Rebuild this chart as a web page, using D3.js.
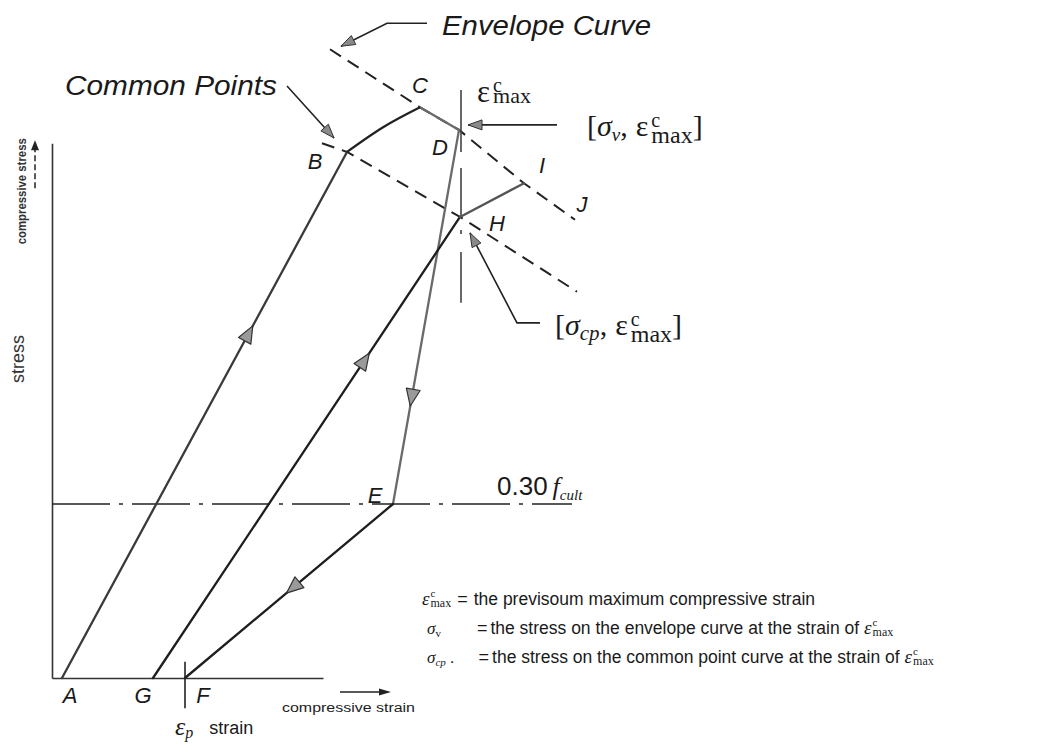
<!DOCTYPE html>
<html>
<head>
<meta charset="utf-8">
<script src="https://cdn.jsdelivr.net/npm/d3@7"></script>
<style>
  body { margin: 0; background: #fff; }
  svg { display: block; }
</style>
</head>
<body>
<svg id="chart" width="1063" height="744"></svg>
<script>
// ---- data: strain (relative units), stress (fraction of f_cult) ----
const pointNames  = ["A", "B", "C", "D", "E", "F", "G", "H", "I", "J"];
const pointStrain = [0.2, 5.9, 7.36, 8.14, 6.82, 2.66, 2.02, 8.16, 9.44, 10.46];
const pointStress = [0, 0.907, 0.984, 0.945, 0.30, 0, 0, 0.795, 0.853, 0.79];

const envelopeStrain = [5.56, 7.36, 8.14, 9.44, 10.46];
const envelopeStress = [1.084, 0.984, 0.945, 0.853, 0.79];

const commonStrain = [5.4, 5.9, 8.16, 10.5];
const commonStress = [0.922, 0.907, 0.795, 0.666];

// reloading curve B -> C
const curveBCStrain = [5.9, 6.63, 7.36];
const curveBCStress = [0.907, 0.950, 0.984];

const strainMax = 8.18;
const strainMaxRange = [1.014, 0.647];
const cutoffStress = 0.30;
const cutoffStrainEnd = 10.4;
const axisStrainEnd = 5.42;
const axisStressEnd = 0.922;
const plasticTick = [0.028, -0.052];

// straight path segments and their colours
const segments = [["A", "B"], ["C", "D"], ["D", "E"], ["E", "F"], ["G", "H"], ["H", "I"]];
const segmentColors = ["#3a3a3a", "#6a6a6a", "#6a6a6a", "#1e1e1e", "#1e1e1e", "#555"];
// direction arrows: from, to, fraction along
const arrowSegments = [["A", "B", 0.656], ["G", "H", 0.69], ["D", "E", 0.717], ["E", "F", 0.483]];

// point label offsets (px) from each point
const labelDx = [8, -32, 0, -19, -18, 18, -10, 37, 18, 7];
const labelDy = [25, 17, -14, 25, -1, 25, 25, 14, -10, -8];

const legendRows = [
  "the previsoum maximum compressive strain",
  "the stress on the envelope curve at the strain of",
  "the stress on the common point curve at the strain of"
];

// ---- scales ----
const x = d3.scaleLinear().domain([0, 10]).range([52, 552]);
const y = d3.scaleLinear().domain([0, 1]).range([678, 98]);

const svg = d3.select("#chart");
svg.append("rect").attr("width", 1063).attr("height", 744).attr("fill", "#fff");

const SANS = "'Liberation Sans', Arial, Helvetica, sans-serif";
const SERIF = "'Liberation Serif', 'DejaVu Serif', 'Times New Roman', serif";

const P = name => {
  const i = pointNames.indexOf(name);
  return [x(pointStrain[i]), y(pointStress[i])];
};
const line = d3.line().x(d => x(d[0])).y(d => y(d[1]));
const zip = (a, b) => a.map((v, i) => [v, b[i]]);

// ---- axes ----
const yAxisScale = d3.scaleLinear().domain([0, axisStressEnd]).range([y(0), y(axisStressEnd)]);
const xAxisScale = d3.scaleLinear().domain([0, axisStrainEnd]).range([x(0), x(axisStrainEnd)]);

svg.append("g")
  .attr("transform", `translate(${x(0)},0)`)
  .call(d3.axisLeft(yAxisScale).tickValues([]).tickSizeOuter(0))
  .call(g => g.select(".domain").attr("stroke", "#333").attr("stroke-width", 1.6));

svg.append("g")
  .attr("transform", `translate(0,${y(0)})`)
  .call(d3.axisBottom(xAxisScale).tickValues([]).tickSizeOuter(0))
  .call(g => g.select(".domain").attr("stroke", "#333").attr("stroke-width", 1.6));

// ---- cutoff line 0.30 f_cult ----
svg.append("path")
  .attr("d", line([[0, cutoffStress], [cutoffStrainEnd, cutoffStress]]))
  .attr("stroke", "#222").attr("stroke-width", 1.6).attr("fill", "none")
  .attr("stroke-dasharray", "58,9,4,9");

// ---- envelope and common point curves (dashed) ----
svg.append("path")
  .attr("d", line(zip(envelopeStrain, envelopeStress)))
  .attr("stroke", "#222").attr("stroke-width", 2).attr("fill", "none")
  .attr("stroke-dasharray", "13,8");

svg.append("path")
  .attr("d", line(zip(commonStrain, commonStress)))
  .attr("stroke", "#222").attr("stroke-width", 2).attr("fill", "none")
  .attr("stroke-dasharray", "13,8");

// ---- vertical line at the maximum strain ----
svg.append("path")
  .attr("d", line([[strainMax, strainMaxRange[0]], [strainMax, strainMaxRange[1]]]))
  .attr("stroke", "#444").attr("stroke-width", 1.6).attr("fill", "none")
  .attr("stroke-dasharray", "62,16,49,13,4,18,51");

// plastic strain tick at F
const iF = pointNames.indexOf("F");
svg.append("path")
  .attr("d", line([[pointStrain[iF], plasticTick[0]], [pointStrain[iF], plasticTick[1]]]))
  .attr("stroke", "#222").attr("stroke-width", 1.6);

// ---- loading / unloading paths ----
segments.forEach((s, i) => {
  const a = pointNames.indexOf(s[0]), b = pointNames.indexOf(s[1]);
  svg.append("path")
    .attr("d", line([[pointStrain[a], pointStress[a]], [pointStrain[b], pointStress[b]]]))
    .attr("stroke", segmentColors[i]).attr("stroke-width", 2.3).attr("fill", "none")
    .attr("stroke-linecap", "round");
});

const curveLine = d3.line().x(d => x(d[0])).y(d => y(d[1])).curve(d3.curveNatural);
svg.append("path")
  .attr("d", curveLine(zip(curveBCStrain, curveBCStress)))
  .attr("stroke", "#222").attr("stroke-width", 2.3).attr("fill", "none");

// ---- arrowheads ----
function arrowHead(tip, angle, len, half) {
  const c = Math.cos(angle), s = Math.sin(angle);
  const bx = tip[0] - c * len, by = tip[1] - s * len;
  return `M${tip[0]},${tip[1]}L${bx - s * half},${by + c * half}L${bx + s * half},${by - c * half}Z`;
}

arrowSegments.forEach(([from, to, t]) => {
  const p0 = P(from), p1 = P(to);
  const ang = Math.atan2(p1[1] - p0[1], p1[0] - p0[0]);
  const cx = p0[0] + (p1[0] - p0[0]) * t, cy = p0[1] + (p1[1] - p0[1]) * t;
  const tip = [cx + Math.cos(ang) * 8, cy + Math.sin(ang) * 8];
  svg.append("path")
    .attr("d", arrowHead(tip, ang, 17, 7))
    .attr("fill", "#9a9a9a").attr("stroke", "#333").attr("stroke-width", 1.2)
    .attr("stroke-linejoin", "round");
});

// ---- point labels ----
pointNames.forEach((n, i) => {
  svg.append("text")
    .attr("x", x(pointStrain[i]) + labelDx[i])
    .attr("y", y(pointStress[i]) + labelDy[i])
    .attr("text-anchor", "middle")
    .attr("font-family", SANS).attr("font-style", "italic").attr("font-size", 22)
    .attr("fill", "#1a1a1a")
    .text(n);
});

// ---- leader arrows ----
function leader(points) {
  svg.append("path")
    .attr("d", d3.line()(points))
    .attr("stroke", "#222").attr("stroke-width", 1.6).attr("fill", "none");
  const tip = points[points.length - 1], prev = points[points.length - 2];
  const ang = Math.atan2(tip[1] - prev[1], tip[0] - prev[0]);
  svg.append("path")
    .attr("d", arrowHead(tip, ang, 14, 5))
    .attr("fill", "#8a8a8a").attr("stroke", "#333").attr("stroke-width", 1);
}

const envStart = [x(envelopeStrain[0]), y(envelopeStress[0])];
leader([[envStart[0] + 97, envStart[1] - 26], [envStart[0] + 57, envStart[1] - 26], [envStart[0] + 11, envStart[1] - 3]]);

const pB = P("B"), pD = P("D"), pH = P("H");
leader([[pB[0] - 60, pB[1] - 66], [pB[0] - 13, pB[1] - 14]]);
leader([[pD[0] + 98, pD[1] - 5], [pD[0] + 9, pD[1] - 5]]);
leader([[pH[0] + 80, pH[1] + 106], [pH[0] + 57, pH[1] + 106], [pH[0] + 10, pH[1] + 16]]);

// ---- titles ----
svg.append("text")
  .attr("x", envStart[0] + 112).attr("y", envStart[1] - 14)
  .attr("font-family", SANS).attr("font-style", "italic").attr("font-size", 27)
  .attr("textLength", 209).attr("lengthAdjust", "spacingAndGlyphs")
  .attr("fill", "#1a1a1a").text("Envelope Curve");

svg.append("text")
  .attr("x", pB[0] - 282).attr("y", pB[1] - 57)
  .attr("font-family", SANS).attr("font-style", "italic").attr("font-size", 27)
  .attr("textLength", 212).attr("lengthAdjust", "spacingAndGlyphs")
  .attr("fill", "#1a1a1a").text("Common Points");

// ---- rich text helper: one <text>, runs as tspans flowing left to right;
//      "stack" runs start at the previous run's x (sub/superscript pairs) ----
function rich(g, x0, y0, runs) {
  const text = g.append("text").attr("fill", "#1a1a1a");
  let cx = x0, prevStart = x0;
  runs.forEach(r => {
    const start = r.stack ? prevStart : cx + (r.dx || 0);
    const ts = text.append("tspan")
      .attr("x", start).attr("y", y0 + (r.dy || 0))
      .attr("font-family", r.family || SERIF)
      .attr("font-size", r.size)
      .attr("font-style", r.italic ? "italic" : "normal")
      .text(r.t);
    const w = ts.node().getComputedTextLength();
    cx = r.stack ? Math.max(cx, start + w) : start + w;
    prevStart = start;
  });
  return text;
}

// ε^c_max at the top of the vertical line
rich(svg, x(strainMax) + 16, y(strainMaxRange[0]) + 12, [
  { t: "ε", size: 31 },
  { t: "c", size: 20, dy: -10, dx: 3 },
  { t: "max", size: 22, stack: true, dy: 1 }
]);

// [σ_v, ε^c_max]
rich(svg, pD[0] + 128, pD[1] + 6, [
  { t: "[", size: 30 },
  { t: "σ", size: 30, italic: true },
  { t: "v", size: 19, dy: 5, italic: true },
  { t: ",", size: 30 },
  { t: "ε", size: 30, dx: 8 },
  { t: "c", size: 20, dy: -9, dx: 3 },
  { t: "max", size: 24, stack: true, dy: 7 },
  { t: "]", size: 30 }
]);

// [σ_cp, ε^c_max]
rich(svg, pH[0] + 95, pH[1] + 118, [
  { t: "[", size: 30 },
  { t: "σ", size: 30, italic: true },
  { t: "cp", size: 21, dy: 5, italic: true },
  { t: ",", size: 30 },
  { t: "ε", size: 30, dx: 8 },
  { t: "c", size: 20, dy: -9, dx: 3 },
  { t: "max", size: 24, stack: true, dy: 7 },
  { t: "]", size: 30 }
]);

// 0.30 f_cult
const pE = P("E");
rich(svg, pE[0] + 104, y(cutoffStress) - 9, [
  { t: "0.30", size: 26, family: SANS },
  { t: "f", size: 26, italic: true, dx: 5 },
  { t: "cult", size: 15, italic: true, dy: 5 }
]);

// ---- axis titles ----
svg.append("text")
  .attr("transform", `translate(${x(0) - 26},${y(axisStressEnd) + 48}) rotate(-90)`)
  .attr("text-anchor", "middle")
  .attr("font-family", SANS).attr("font-size", 12).attr("font-weight", "bold")
  .attr("textLength", 106).attr("lengthAdjust", "spacingAndGlyphs")
  .attr("fill", "#333").text("compressive stress");

svg.append("path")
  .attr("d", `M${x(0) - 17},${y(axisStressEnd) + 45}L${x(0) - 17},${y(axisStressEnd) + 4}`)
  .attr("stroke", "#222").attr("stroke-width", 1.5).attr("stroke-dasharray", "6,3");
svg.append("path")
  .attr("d", arrowHead([x(0) - 17, y(axisStressEnd) - 3], -Math.PI / 2, 10, 4))
  .attr("fill", "#222");

svg.append("text")
  .attr("transform", `translate(${x(0) - 28},${y(0.55)}) rotate(-90)`)
  .attr("text-anchor", "middle")
  .attr("font-family", SANS).attr("font-size", 18)
  .attr("fill", "#333").text("stress");

svg.append("text")
  .attr("x", x(axisStrainEnd) - 41).attr("y", y(0) + 34)
  .attr("font-family", SANS).attr("font-size", 12.5)
  .attr("textLength", 133).attr("lengthAdjust", "spacingAndGlyphs")
  .attr("fill", "#222").text("compressive strain");

svg.append("path")
  .attr("d", `M${x(axisStrainEnd) + 17},${y(0) + 14}H${x(axisStrainEnd) + 60}`)
  .attr("stroke", "#222").attr("stroke-width", 1.5);
svg.append("path")
  .attr("d", arrowHead([x(axisStrainEnd) + 68, y(0) + 14], 0, 12, 3.5))
  .attr("fill", "#222");

// ε_p  strain
rich(svg, x(pointStrain[iF]) - 10, y(0) + 57, [
  { t: "ε", size: 26, italic: true },
  { t: "p", size: 16, italic: true, dy: 3 },
  { t: "strain", size: 18, family: SANS, dx: 16, dy: -1 }
]);

// ---- legend ----
const lx = x(0) + 370;
const rowY = [605, 634, 663];

rich(svg, lx, rowY[0], [
  { t: "ε", size: 19, italic: true },
  { t: "c", size: 11, dy: -8, dx: 1 },
  { t: "max", size: 12, stack: true, dy: 2 },
  { t: "=", size: 18, family: SANS, dx: 6 },
  { t: legendRows[0], size: 17.5, family: SANS, dx: 6 }
]);

rich(svg, lx + 5, rowY[1], [
  { t: "σ", size: 17, italic: true },
  { t: "v", size: 11, dy: 3 },
  { t: "=", size: 18, family: SANS, dx: 36 },
  { t: legendRows[1], size: 17.5, family: SANS, dx: 3 },
  { t: "ε", size: 19, italic: true, dx: 5 },
  { t: "c", size: 11, dy: -8, dx: 1 },
  { t: "max", size: 12, stack: true, dy: 2 }
]);

rich(svg, lx + 5, rowY[2], [
  { t: "σ", size: 17, italic: true },
  { t: "cp", size: 11, dy: 3, italic: true },
  { t: ".", size: 17, family: SANS, dx: 4 },
  { t: "=", size: 18, family: SANS, dx: 24 },
  { t: legendRows[2], size: 17.5, family: SANS, dx: 3 },
  { t: "ε", size: 19, italic: true, dx: 5 },
  { t: "c", size: 11, dy: -8, dx: 1 },
  { t: "max", size: 12, stack: true, dy: 2 }
]);
</script>
</body>
</html>
